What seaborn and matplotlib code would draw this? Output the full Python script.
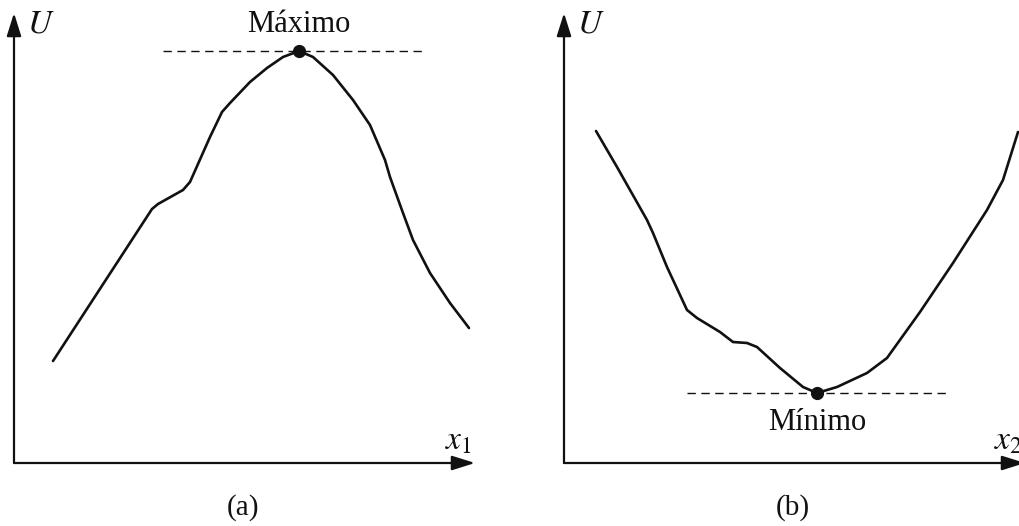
import numpy as np
import pandas as pd
import matplotlib
matplotlib.use("Agg")
import matplotlib.pyplot as plt
import seaborn as sns

sns.set_theme(style="white")
plt.rcParams["font.family"] = ["Liberation Serif", "DejaVu Serif"]
plt.rcParams["mathtext.fontset"] = "stix"

# -----------------------------
# data (arbitrary units, origin at the axes corner)
# -----------------------------
x1 = [3.9, 13.8, 14.4, 16.9, 17.6, 19.6, 20.8, 21.6, 23.6, 25.3, 26.9, 28.5,
      29.9, 31.9, 33.9, 35.6, 37.1, 37.6, 38.9, 39.9, 41.6, 43.6, 45.5]
u_a = [10.2, 25.4, 25.9, 27.3, 28.1, 32.6, 35.1, 36.0, 38.1, 39.5, 40.6, 41.2,
       40.6, 38.8, 36.3, 33.8, 30.3, 28.6, 25.0, 22.3, 19.0, 16.0, 13.5]
max_x, max_u = 28.5, 41.2
max_line = [14.9, 41.1]

x2 = [3.2, 5.3, 8.3, 8.9, 10.3, 12.3, 13.3, 15.6, 16.9, 18.3, 19.3, 21.6,
      23.9, 25.3, 27.3, 30.3, 32.3, 35.6, 38.9, 42.3, 43.9, 45.4]
u_b = [33.2, 29.6, 24.3, 23.0, 19.6, 15.3, 14.5, 13.1, 12.1, 12.0, 11.6, 9.5,
       7.6, 7.0, 7.6, 9.0, 10.5, 15.1, 20.0, 25.3, 28.3, 33.1]
min_x, min_u = 25.3, 7.0
min_line = [12.3, 38.4]

panels = [
    dict(x=x1, u=u_a, px=max_x, pu=max_u, span=max_line, word="Máximo",
         word_y=43.9, xlabel="$x_1$", tag="(a)", left=14),
    dict(x=x2, u=u_b, px=min_x, pu=min_u, span=min_line, word="Mínimo",
         word_y=4.1, xlabel="$x_2$", tag="(b)", left=564),
]

W, H = 1020, 526
fig = plt.figure(figsize=(W / 100, H / 100), dpi=100)

for p in panels:
    ax = fig.add_axes([p["left"] / W, 63 / H, 461 / W, 450 / H])
    ax.set_xlim(0, 46.1)
    ax.set_ylim(0, 45)
    for s in ax.spines.values():
        s.set_visible(False)
    ax.set_xticks([])
    ax.set_yticks([])
    ax.patch.set_alpha(0)

    # axes with arrow heads
    arrow = dict(arrowstyle="-|>,head_length=0.7,head_width=0.22", lw=1.6,
                 color="#111111", mutation_scale=20, shrinkA=0, shrinkB=0)
    ax.annotate("", xy=(0, 1), xytext=(0, 0), xycoords="axes fraction",
                arrowprops=arrow)
    ax.annotate("", xy=(1, 0), xytext=(0, 0), xycoords="axes fraction",
                arrowprops=arrow)

    df = pd.DataFrame({"x": p["x"], "u": p["u"]})
    sns.lineplot(data=df, x="x", y="u", ax=ax, sort=False, estimator=None,
                 color="#111111", lw=1.9)
    ax.plot(p["span"], [p["pu"], p["pu"]], color="#111111", lw=1.0,
            dashes=(6, 4))
    ax.plot(p["px"], p["pu"], "o", color="#111111", ms=8.5)

    ax.text(p["px"], p["word_y"], p["word"], ha="center", va="center",
            fontsize=22, color="#111111")
    ax.text(2.7, 43.9, "$U$", ha="center", va="center", fontsize=24,
            color="#111111")
    ax.text(44.4, 2.2, p["xlabel"], ha="center", va="center", fontsize=24,
            color="#111111", clip_on=False)
    ax.text(0.497, -0.098, p["tag"], transform=ax.transAxes, ha="center",
            va="center", fontsize=21, color="#111111")
    ax.set_xlabel("")
    ax.set_ylabel("")

fig.savefig("out.png", dpi=100)
